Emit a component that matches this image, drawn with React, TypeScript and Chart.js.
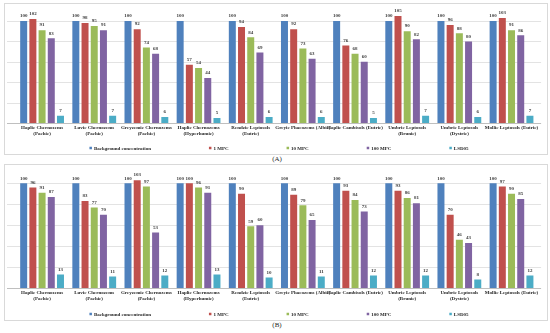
import React, { useEffect, useRef } from 'react';
import { Chart, registerables } from 'chart.js';

Chart.register(...registerables);

// ---------- data ----------
const categories: string[][] = [
  ['Haplic Chernozems', '(Pachic)'],
  ['Luvic Chernozems', '(Pachic)'],
  ['Greyzemic Chernozems', '(Pachic)'],
  ['Haplic Chernozems', '(Hyperhumic)'],
  ['Rendzic Leptosols', '(Eutric)'],
  ['Greyic Phaeozems (Albic)'],
  ['Haplic Cambisols (Eutric)'],
  ['Umbric Leptosols', '(Brunic)'],
  ['Umbric Leptosols', '(Dystric)'],
  ['Mollic Leptosols (Eutric)'],
];

const seriesNames = ['Background concentration', '1 MPC', '10 MPC', '100 MPC', 'LSD05'];
const seriesColors = ['#4F81BD', '#C0504D', '#9BBB59', '#8064A2', '#4BACC6'];

// Panel (A)
const backgroundA = [100, 100, 100, 100, 100, 100, 100, 100, 100, 100];
const mpc1A = [102, 98, 92, 57, 94, 92, 76, 105, 96, 103];
const mpc10A = [91, 95, 74, 54, 84, 73, 68, 90, 88, 91];
const mpc100A = [83, 91, 68, 44, 69, 63, 60, 82, 80, 86];
const lsd05A = [7, 7, 6, 5, 6, 6, 5, 7, 6, 7];

// Panel (B)
const backgroundB = [100, 100, 100, 100, 100, 100, 100, 100, 100, 100];
const mpc1B = [96, 83, 103, 100, 90, 89, 93, 93, 70, 97];
const mpc10B = [91, 77, 97, 96, 59, 79, 84, 86, 46, 90];
const mpc100B = [87, 70, 53, 91, 60, 65, 73, 81, 43, 85];
const lsd05B = [13, 11, 12, 13, 10, 11, 12, 12, 8, 12];

const yMax = 115;
const yStep = 20;

const FONT_FAMILY = '"Liberation Serif", "Times New Roman", serif';

// ---------- plugins ----------
const gridPlugin = {
  id: 'extendedGrid',
  beforeDatasetsDraw(chart: any) {
    const y = chart.scales.y;
    const { left, right } = chart.chartArea;
    const ctx = chart.ctx;
    ctx.save();
    ctx.lineWidth = 1;
    y.ticks.forEach((t: any) => {
      const py = Math.round(y.getPixelForValue(t.value)) + 0.5;
      ctx.strokeStyle = t.value === 0 ? '#bfbfbf' : '#e3e3e3';
      ctx.beginPath();
      ctx.moveTo(left - 9, py);
      ctx.lineTo(right + 3.5, py);
      ctx.stroke();
    });
    ctx.restore();
  },
};

const valueLabelPlugin = {
  id: 'valueLabels',
  afterDatasetsDraw(chart: any) {
    const ctx = chart.ctx;
    ctx.save();
    ctx.font = `bold 5px ${FONT_FAMILY}`;
    ctx.fillStyle = '#404040';
    ctx.textAlign = 'center';
    ctx.textBaseline = 'bottom';
    chart.data.datasets.forEach((ds: any, i: number) => {
      const meta = chart.getDatasetMeta(i);
      meta.data.forEach((el: any, j: number) => {
        ctx.fillText(String(ds.data[j]), el.x, el.y - 2.5);
      });
    });
    ctx.restore();
  },
};

const legendPlugin = {
  id: 'rowLegend',
  afterDraw(chart: any, _args: any, opts: any) {
    const ctx = chart.ctx;
    const items = chart.data.datasets.map((ds: any) => ({ text: ds.label, color: ds.backgroundColor }));
    ctx.save();
    ctx.font = `bold 5px ${FONT_FAMILY}`;
    const box = 2.5;
    const gapText = 2;
    const gapItem = opts.gap ?? 58;
    const widths = items.map((it: any) => box + gapText + ctx.measureText(it.text).width);
    const total = widths.reduce((a: number, b: number) => a + b, 0) + gapItem * (items.length - 1);
    let x = (chart.width - total) / 2 + (opts.shift ?? 0);
    const y = chart.chartArea.bottom + (opts.offset ?? 25);
    ctx.textBaseline = 'middle';
    ctx.textAlign = 'left';
    items.forEach((it: any, i: number) => {
      ctx.fillStyle = it.color;
      ctx.fillRect(x, y - box / 2, box, box);
      ctx.fillStyle = '#262626';
      ctx.fillText(it.text, x + box + gapText, y + 0.3);
      x += widths[i] + gapItem;
    });
    ctx.restore();
  },
};

// ---------- chart component ----------
type PanelProps = {
  width: number;
  height: number;
  series: number[][];
  padTop: number;
  axisHeight: number;
  legendOffset: number;
};

function BarPanel({ width, height, series, padTop, axisHeight, legendOffset }: PanelProps) {
  const ref = useRef<HTMLCanvasElement | null>(null);

  useEffect(() => {
    if (!ref.current) return;
    const chart = new Chart(ref.current, {
      type: 'bar',
      data: {
        labels: categories,
        datasets: series.map((data, i) => ({
          label: seriesNames[i],
          data,
          backgroundColor: seriesColors[i],
          borderWidth: 0,
          barPercentage: 0.76,
          categoryPercentage: 0.882,
        })),
      },
      options: {
        responsive: false,
        animation: false,
        devicePixelRatio: 1,
        layout: { padding: { left: 11, right: 9.4, top: padTop, bottom: 0 } },
        plugins: {
          legend: { display: false },
          tooltip: { enabled: false },
          rowLegend: { offset: legendOffset, gap: 58, shift: 3 },
        } as any,
        scales: {
          x: {
            grid: { display: false, drawTicks: false },
            border: { display: false },
            ticks: {
              font: { family: FONT_FAMILY, size: 5, weight: 'bold' },
              color: '#262626',
              padding: 1.5,
              maxRotation: 0,
              minRotation: 0,
              autoSkip: false,
            },
            afterFit: (s: any) => {
              s.height = axisHeight;
            },
          },
          y: {
            min: 0,
            max: yMax,
            ticks: { display: false, stepSize: yStep },
            grid: { display: false, drawTicks: false },
            border: { display: false },
            afterFit: (s: any) => {
              s.width = 0;
            },
            afterBuildTicks: (s: any) => {
              s.ticks = s.ticks.filter((t: any) => t.value % yStep === 0);
            },
          },
        },
      } as any,
      plugins: [gridPlugin, valueLabelPlugin, legendPlugin],
    });
    return () => chart.destroy();
  }, []);

  return <canvas ref={ref} width={width} height={height} style={{ display: 'block', width, height }} />;
}

export default function App() {
  const panelStyle = (top: number, h: number): React.CSSProperties => ({
    position: 'absolute',
    left: 4,
    top,
    width: 544,
    height: h,
    border: '1px solid #d9d9d9',
    boxSizing: 'border-box',
    background: '#ffffff',
  });
  const captionStyle = (top: number): React.CSSProperties => ({
    position: 'absolute',
    left: 262,
    top,
    width: 30,
    textAlign: 'center',
    font: `7px ${FONT_FAMILY}`,
    color: '#262626',
    lineHeight: '8px',
  });
  return (
    <div style={{ position: 'fixed', left: 0, top: 0, width: 550, height: 333, background: '#fff' }}>
      <div style={panelStyle(3, 152)}>
        <BarPanel
          width={542}
          height={150}
          series={[backgroundA, mpc1A, mpc10A, mpc100A, lsd05A]}
          padTop={1.7}
          axisHeight={31}
          legendOffset={25}
        />
      </div>
      <div style={captionStyle(155)}>(A)</div>
      <div style={panelStyle(164, 157)}>
        <BarPanel
          width={542}
          height={155}
          series={[backgroundB, mpc1B, mpc10B, mpc100B, lsd05B]}
          padTop={2.6}
          axisHeight={32}
          legendOffset={26}
        />
      </div>
      <div style={captionStyle(321)}>(B)</div>
    </div>
  );
}
